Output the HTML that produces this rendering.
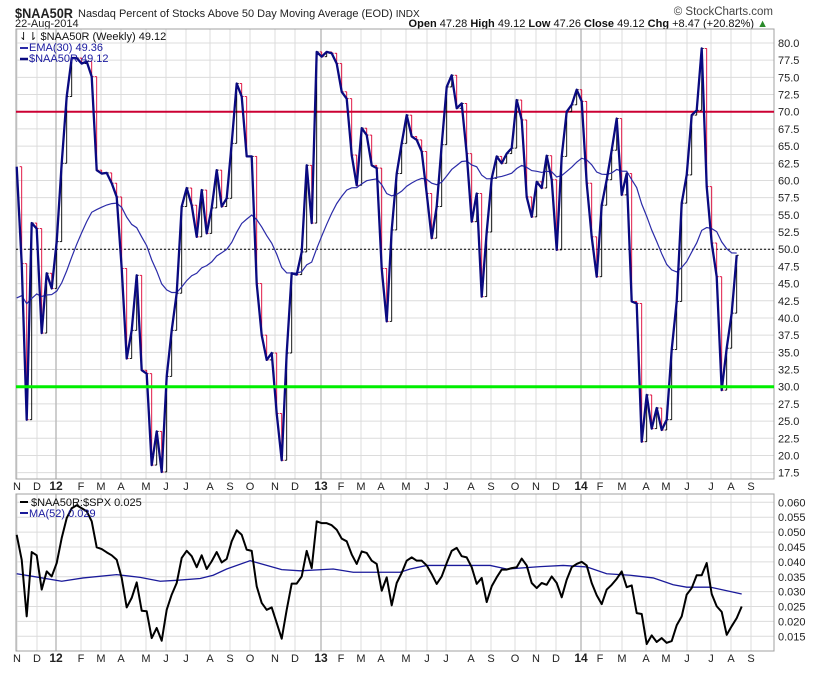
<!DOCTYPE html>
<html><head><meta charset="utf-8">
<style>
html,body{margin:0;padding:0;background:#fff;}
body{width:820px;height:668px;overflow:hidden;font-family:"Liberation Sans",sans-serif;}
svg text{font-family:"Liberation Sans",sans-serif;}
</style></head>
<body>
<svg id="chart" width="820" height="668" viewBox="0 0 820 668" xmlns="http://www.w3.org/2000/svg">
<text x="15" y="18" font-size="14" font-weight="bold" fill="#222" textLength="58" lengthAdjust="spacingAndGlyphs">$NAA50R</text>
<text x="78" y="17" font-size="11" fill="#222">Nasdaq Percent of Stocks Above 50 Day Moving Average (EOD) <tspan font-size="10">INDX</tspan></text>
<text x="15" y="27" font-size="11" fill="#222">22-Aug-2014</text>
<text x="773" y="15" font-size="11.5" fill="#444" text-anchor="end">© StockCharts.com</text>
<text x="768" y="27" font-size="11" fill="#111" text-anchor="end"><tspan font-weight="bold">Open</tspan> 47.28  <tspan font-weight="bold">High</tspan> 49.12  <tspan font-weight="bold">Low</tspan> 47.26  <tspan font-weight="bold">Close</tspan> 49.12  <tspan font-weight="bold">Chg</tspan> +8.47 (+20.82%) <tspan fill="#2a8a2a">▲</tspan></text>
<g id="main"></g>
<g id="lower"></g>
</svg>
<script>
// ---- Main panel data (weekly closes, Nov 2011 - Aug 2014) ----
const closes = [62.0,47.9,25.2,53.8,53.0,37.8,46.5,44.3,51.1,62.5,72.2,77.8,77.8,77.0,77.3,75.1,61.5,61.0,61.1,59.6,57.6,47.2,34.1,38.2,46.2,32.4,31.9,18.6,23.5,17.6,31.5,38.2,43.6,56.2,58.9,56.4,51.8,58.6,
52.3,56.0,61.5,56.2,57.4,65.4,74.1,72.2,63.5,63.5,45.0,37.5,33.9,34.9,26.1,19.3,34.9,46.5,46.3,49.6,62.2,53.8,78.7,78.0,78.7,78.5,77.0,72.9,71.9,63.7,59.3,67.6,66.6,62.2,61.8,47.2,
39.5,52.8,61.0,65.4,69.5,66.4,65.9,64.2,58.1,51.6,56.2,65.2,73.6,75.3,70.5,71.2,63.9,54.0,58.1,43.1,52.5,60.3,63.5,62.5,63.9,64.7,71.7,68.8,57.6,54.7,59.8,58.9,63.6,60.1,49.9,63.5,70.0,
71.0,73.2,71.5,59.6,51.8,46.0,56.4,60.1,64.4,69.0,57.9,61.0,42.4,42.1,22.0,28.8,23.9,26.9,23.7,25.2,35.4,42.4,56.7,60.8,69.5,70.2,79.2,59.1,50.9,46.0,29.5,35.6,40.7,49.12];
const emaSeed = 41.6;
const yTicks = [80,77.5,75,72.5,70,67.5,65,62.5,60,57.5,55,52.5,50,47.5,45,42.5,40,37.5,35,32.5,30,27.5,25,22.5,20,17.5];
const monthLabels = ["N","D","12","F","M","A","M","J","J","A","S","O","N","D","13","F","M","A","M","J","J","A","S","O","N","D","14","F","M","A","M","J","J","A","S"];
const monthWeekIdx = [0.06,4.06,7.86,12.86,16.86,20.86,25.86,29.86,33.86,38.66,42.66,46.66,51.66,55.66,60.86,64.86,68.86,72.86,77.86,82.06,85.86,90.86,94.86,99.66,103.86,107.86,112.86,116.66,121.06,125.86,129.86,134.06,138.86,142.86,146.86];
// ---- Lower panel data ----
const ratio = [0.0491,0.0407,0.0217,0.0433,0.0422,0.0307,0.0368,0.0351,0.0396,0.0480,0.0547,0.0580,0.0590,0.0580,0.0570,0.0536,0.0449,0.0443,0.0432,0.0422,0.0407,0.0346,0.0247,0.0279,0.0331,0.0236,0.0234,0.0144,0.0178,0.0135,0.0239,0.0290,0.0329,0.0413,0.0437,0.0419,0.0382,0.0422,0.0376,0.0402,0.0433,0.0398,0.0410,0.0469,0.0506,0.0491,0.0441,0.0437,0.0318,0.0262,0.0239,0.0247,0.0195,0.0142,0.0239,0.0327,0.0327,0.0351,0.0437,0.0379,0.0536,0.0530,0.0530,0.0523,0.0508,0.0478,0.0469,0.0425,0.0393,0.0435,0.0430,0.0404,0.0393,0.0303,0.0348,0.0254,0.0329,
0.0363,0.0404,0.0415,0.0404,0.0404,0.0388,0.0359,0.0326,0.0351,0.0396,0.0437,0.0447,0.0419,0.0415,0.0382,0.0326,0.0346,0.0265,0.0318,0.0348,0.0374,0.0374,0.0379,0.0382,0.0411,0.0388,0.0329,0.0312,0.0329,0.0323,0.0351,0.0329,0.0281,0.0340,0.0382,0.0393,0.0400,0.0388,0.0329,0.0288,0.0258,0.0307,0.0323,0.0343,0.0368,0.0315,0.0321,0.0228,0.0225,0.0124,0.0153,0.0131,0.0144,0.0128,0.0134,0.0187,0.0217,0.0290,0.0312,0.0355,0.0355,0.0396,0.0292,0.0251,0.0232,0.0155,0.0184,0.0211,0.025];
const maWeek = [0,3.3,9,13.3,20,24.7,28.7,32,36.7,39.3,42,46.7,50,53,56.7,63.3,67.3,76.7,78.7,82,88,94.7,98,104.7,109.3,114,118,122.7,127.3,131.3,134,138.7,145];
const maVals = [0.0360,0.0351,0.0335,0.0346,0.0357,0.0348,0.0335,0.0338,0.0344,0.0355,0.0376,0.0404,0.0388,0.0374,0.0370,0.0376,0.0365,0.0365,0.0376,0.0388,0.0388,0.0388,0.0376,0.0384,0.0388,0.0383,0.0360,0.0355,0.0346,0.0323,0.0315,0.0315,0.0292];
const rTicks = [0.060,0.055,0.050,0.045,0.040,0.035,0.030,0.025,0.020,0.015];

const NS="http://www.w3.org/2000/svg";
const L=16,R=774,MT=29,MB=479,LT=494,LB=651;
function xw(i){return 16.7+i*5.0;}
function ym(v){return 111.7-(v-70)*6.875;}
function yr(v){return 502.3+(0.060-v)/0.005*14.89;}
function mk(tag,attrs,parent){const e=document.createElementNS(NS,tag);for(const k in attrs)e.setAttribute(k,attrs[k]);parent.appendChild(e);return e;}
const main=document.getElementById('main'), lower=document.getElementById('lower');

function panel(g,top,bot,yfn,ticks,fmt,name){
  const bg=mk('rect',{x:L,y:top,width:R-L,height:bot-top,fill:'#fff',stroke:'none'},g);
  
  
  ticks.forEach(t=>{
    const y=yfn(t);
    const gl=mk('line',{x1:L,x2:R,y1:y,y2:y,stroke:'#dcdcdc','stroke-width':1},g);
    
    
    const tl=mk('text',{x:R+4,y:y+4,'font-size':11,fill:'#222'},g);
    tl.textContent=fmt(t);
    
    
  });
  monthLabels.forEach((m,k)=>{
    const x=xw(monthWeekIdx[k]);
    const yr_=/\d/.test(m);
    const vl=mk('line',{x1:x,x2:x,y1:top,y2:bot,stroke:yr_?'#bdbdbd':'#dcdcdc','stroke-width':yr_?1.5:1},g);
    
    
    const ml=mk('text',{x:x,y:bot+11,'font-size':yr_?12:11,'font-weight':yr_?'bold':'normal',fill:'#222','text-anchor':'middle'},g);
    ml.textContent=m;
    
    
  });
  const br=mk('rect',{x:L,y:top,width:R-L,height:bot-top,fill:'none',stroke:'#a0a0a0','stroke-width':1},g);
  
  
}
panel(main,MT,MB,ym,yTicks,t=>t.toFixed(1),'price-panel');
panel(lower,LT,LB,yr,rTicks,t=>t.toFixed(3),'ratio-panel');

const d50=mk('line',{x1:L,x2:R,y1:ym(50),y2:ym(50),stroke:'#000','stroke-dasharray':'2,2','stroke-width':1},main);


const r70=mk('line',{x1:L,x2:R,y1:ym(70),y2:ym(70),stroke:'#cc0033','stroke-width':2},main);



closes.forEach((c,i)=>{
  if(i===0)return;
  const o=closes[i-1], x=xw(i), col=c<o?'#dd0033':'#000';
  const bg=mk('g',{stroke:col,'stroke-width':0.9},main);
  
  
  mk('line',{x1:x,x2:x,y1:ym(o),y2:ym(c)},bg);
  mk('line',{x1:x-2,x2:x,y1:ym(o),y2:ym(o)},bg);
  mk('line',{x1:x,x2:x+2,y1:ym(c),y2:ym(c)},bg);
});

let ema=emaSeed, ep=[];
closes.forEach((c,i)=>{ema=ema+(c-ema)*2/31;ep.push(xw(i)+','+ym(ema));});
const emaL=mk('polyline',{points:ep.join(' '),fill:'none',stroke:'#2b2ba8','stroke-width':1.2},main);


const cl=mk('polyline',{points:closes.map((c,i)=>xw(i)+','+ym(c)).join(' '),fill:'none',stroke:'#0a0a80','stroke-width':2.3,'stroke-linejoin':'round'},main);


const g30=mk('line',{x1:L,x2:R,y1:ym(30),y2:ym(30),stroke:'#00ee00','stroke-width':3},main);



const lg=mk('g',{},main);


const l1=mk('text',{x:19,y:40,'font-size':11,fill:'#111'},lg);l1.textContent='⇃⇂ $NAA50R (Weekly) 49.12';
mk('line',{x1:20,x2:28,y1:48,y2:48,stroke:'#2b2ba8','stroke-width':2},lg);
const l2=mk('text',{x:29,y:51,'font-size':11,fill:'#1a1aa0'},lg);l2.textContent='EMA(30) 49.36';
mk('line',{x1:20,x2:28,y1:59,y2:59,stroke:'#0a0a80','stroke-width':2.5},lg);
const l3=mk('text',{x:29,y:62,'font-size':11,fill:'#1a1aa0'},lg);l3.textContent='$NAA50R 49.12';

const maL=mk('polyline',{points:maWeek.map((w,k)=>xw(w)+','+yr(maVals[k])).join(' '),fill:'none',stroke:'#1a1a9a','stroke-width':1.3},lower);


const rl=mk('polyline',{points:ratio.map((v,i)=>xw(i)+','+yr(v)).join(' '),fill:'none',stroke:'#000','stroke-width':2,'stroke-linejoin':'round'},lower);


const lg2=mk('g',{},lower);


mk('line',{x1:20,x2:28,y1:502,y2:502,stroke:'#000','stroke-width':2},lg2);
const t1=mk('text',{x:31,y:506,'font-size':11,fill:'#111'},lg2);t1.textContent='$NAA50R:$SPX 0.025';
mk('line',{x1:20,x2:28,y1:513,y2:513,stroke:'#1a1a9a','stroke-width':2},lg2);
const t2=mk('text',{x:29,y:517,'font-size':11,fill:'#1a1aa0'},lg2);t2.textContent='MA(52) 0.029';
</script>
</body></html>
